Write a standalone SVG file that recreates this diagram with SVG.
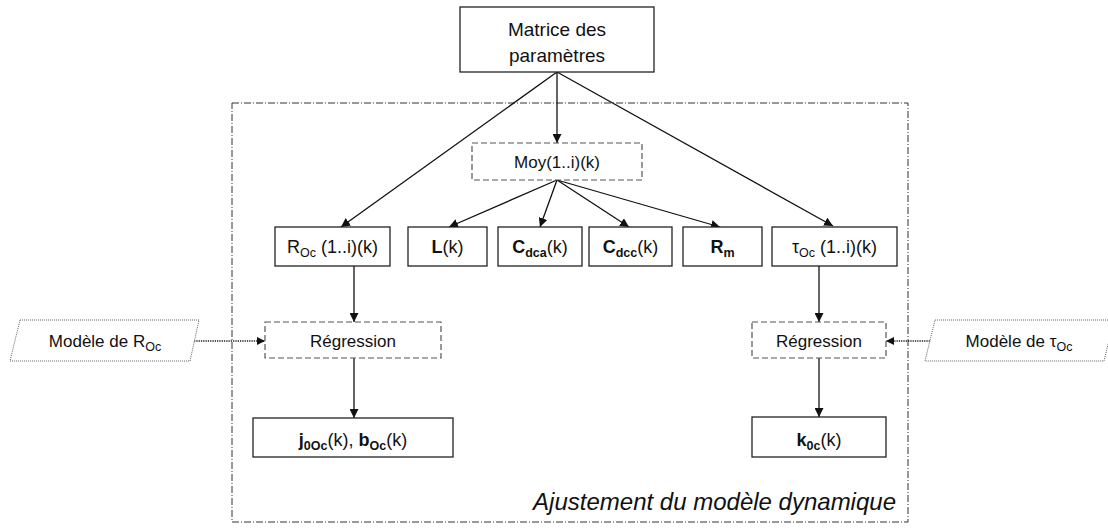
<svg xmlns="http://www.w3.org/2000/svg" width="1108" height="529" viewBox="0 0 1108 529">
<style>
  text { font-family: "Liberation Sans", Arial, sans-serif; fill: #111; }
  .box { fill: #fff; stroke: #222; stroke-width: 1.3; }
  .dbox { fill: #fff; stroke: #555; stroke-width: 1.2; stroke-dasharray: 6 3; }
  .para { fill: #fff; stroke: #666; stroke-width: 1; stroke-dasharray: 1 1; }
  .frame { fill: none; stroke: #333; stroke-width: 1; stroke-dasharray: 7 2 1 2; }
  .t18 { font-size: 18px; text-anchor: middle; }
  .t17 { font-size: 17px; text-anchor: middle; }
  .t19 { font-size: 19px; text-anchor: middle; }
  .b { font-weight: bold; }
  .conn { stroke: #111; stroke-width: 1.3; fill: none; marker-end: url(#arr); }
  .dot { stroke: #222; stroke-width: 1.3; fill: none; stroke-dasharray: 1.3 1; marker-end: url(#arrs); }
</style>
<defs>
  <marker id="arr" viewBox="0 0 10 10" refX="10" refY="5" markerWidth="9" markerHeight="9" markerUnits="userSpaceOnUse" orient="auto">
    <path d="M0,0 L10,5 L0,10 z" fill="#111"/>
  </marker>
  <marker id="arrs" viewBox="0 0 10 10" refX="10" refY="5" markerWidth="8" markerHeight="8" markerUnits="userSpaceOnUse" orient="auto">
    <path d="M0,0 L10,5 L0,10 z" fill="#111"/>
  </marker>
</defs>

<rect class="frame" x="232" y="103" width="676" height="419"/>
<text x="896" y="510" style="font-size:24px;font-style:italic;text-anchor:end">Ajustement du modèle dynamique</text>

<g id="connectors">
  <line class="conn" x1="557" y1="72" x2="557" y2="143"/>
  <line class="conn" x1="557" y1="72" x2="341" y2="227"/>
  <line class="conn" x1="557" y1="72" x2="833" y2="226"/>
  <line class="conn" x1="557" y1="180" x2="449" y2="227"/>
  <line class="conn" x1="557" y1="180" x2="540" y2="227"/>
  <line class="conn" x1="557" y1="180" x2="629" y2="227"/>
  <line class="conn" x1="557" y1="180" x2="720" y2="227"/>
  <line class="conn" x1="354" y1="266" x2="354" y2="322"/>
  <line class="conn" x1="354" y1="358" x2="354" y2="418"/>
  <line class="conn" x1="819" y1="266" x2="819" y2="322"/>
  <line class="conn" x1="819" y1="358" x2="819" y2="417"/>
  <line class="dot" x1="194" y1="341" x2="265" y2="341"/>
  <line class="dot" x1="930" y1="341" x2="886" y2="341"/>
</g>

<g id="matrice">
  <rect class="box" x="460" y="7" width="194" height="65"/>
  <text class="t19" x="557" y="36">Matrice des</text>
  <text class="t19" x="557" y="62">paramètres</text>
</g>

<g id="moy">
  <rect class="dbox" x="472" y="143" width="170" height="37"/>
  <text class="t17" x="557" y="168">Moy(1..i)(k)</text>
</g>

<g id="roc">
  <rect class="box" x="275" y="227" width="115" height="39"/>
  <text class="t18" x="332.5" y="253">R<tspan font-size="12.5" dy="4">Oc</tspan><tspan dy="-4"> (1..i)(k)</tspan></text>
</g>

<g id="lk">
  <rect class="box" x="408" y="227" width="79" height="39"/>
  <text class="t18" x="447.5" y="253"><tspan class="b">L</tspan>(k)</text>
</g>

<g id="cdca">
  <rect class="box" x="498" y="227" width="84" height="39"/>
  <text class="t18" x="540" y="253"><tspan class="b">C</tspan><tspan class="b" font-size="12.5" dy="4">dca</tspan><tspan dy="-4">(k)</tspan></text>
</g>

<g id="cdcc">
  <rect class="box" x="589" y="227" width="83" height="39"/>
  <text class="t18" x="630.5" y="253"><tspan class="b">C</tspan><tspan class="b" font-size="12.5" dy="4">dcc</tspan><tspan dy="-4">(k)</tspan></text>
</g>

<g id="rm">
  <rect class="box" x="683" y="227" width="79" height="39"/>
  <text class="t18" x="722.5" y="253"><tspan class="b">R</tspan><tspan class="b" font-size="12.5" dy="4">m</tspan></text>
</g>

<g id="toc">
  <rect class="box" x="772" y="227" width="125" height="39"/>
  <text class="t18" x="834.5" y="253">τ<tspan font-size="12.5" dy="4">Oc</tspan><tspan dy="-4"> (1..i)(k)</tspan></text>
</g>

<g id="regression-r">
  <rect class="dbox" x="265" y="322" width="176" height="36"/>
  <text class="t17" x="353" y="347">Régression</text>
</g>

<g id="regression-t">
  <rect class="dbox" x="752" y="322" width="134" height="36"/>
  <text class="t17" x="819" y="347">Régression</text>
</g>

<g id="modele-r">
  <polygon class="para" points="20,320 199,320 190,361 10,361"/>
  <text class="t17" x="105" y="347">Modèle de R<tspan font-size="12.5" dy="4">Oc</tspan></text>
</g>

<g id="modele-t">
  <polygon class="para" points="935,320 1114,320 1104,361 925,361"/>
  <text class="t17" x="1019" y="347">Modèle de τ<tspan font-size="12.5" dy="4">Oc</tspan></text>
</g>

<g id="j0oc">
  <rect class="box" x="253" y="418" width="200" height="39"/>
  <text class="t18" x="353" y="446"><tspan class="b">j</tspan><tspan class="b" font-size="12.5" dy="4">0Oc</tspan><tspan dy="-4">(k), </tspan><tspan class="b">b</tspan><tspan class="b" font-size="12.5" dy="4">Oc</tspan><tspan dy="-4">(k)</tspan></text>
</g>

<g id="k0c">
  <rect class="box" x="752" y="417" width="134" height="40"/>
  <text class="t18" x="819" y="446"><tspan class="b">k</tspan><tspan class="b" font-size="12.5" dy="4">0c</tspan><tspan dy="-4">(k)</tspan></text>
</g>
</svg>
